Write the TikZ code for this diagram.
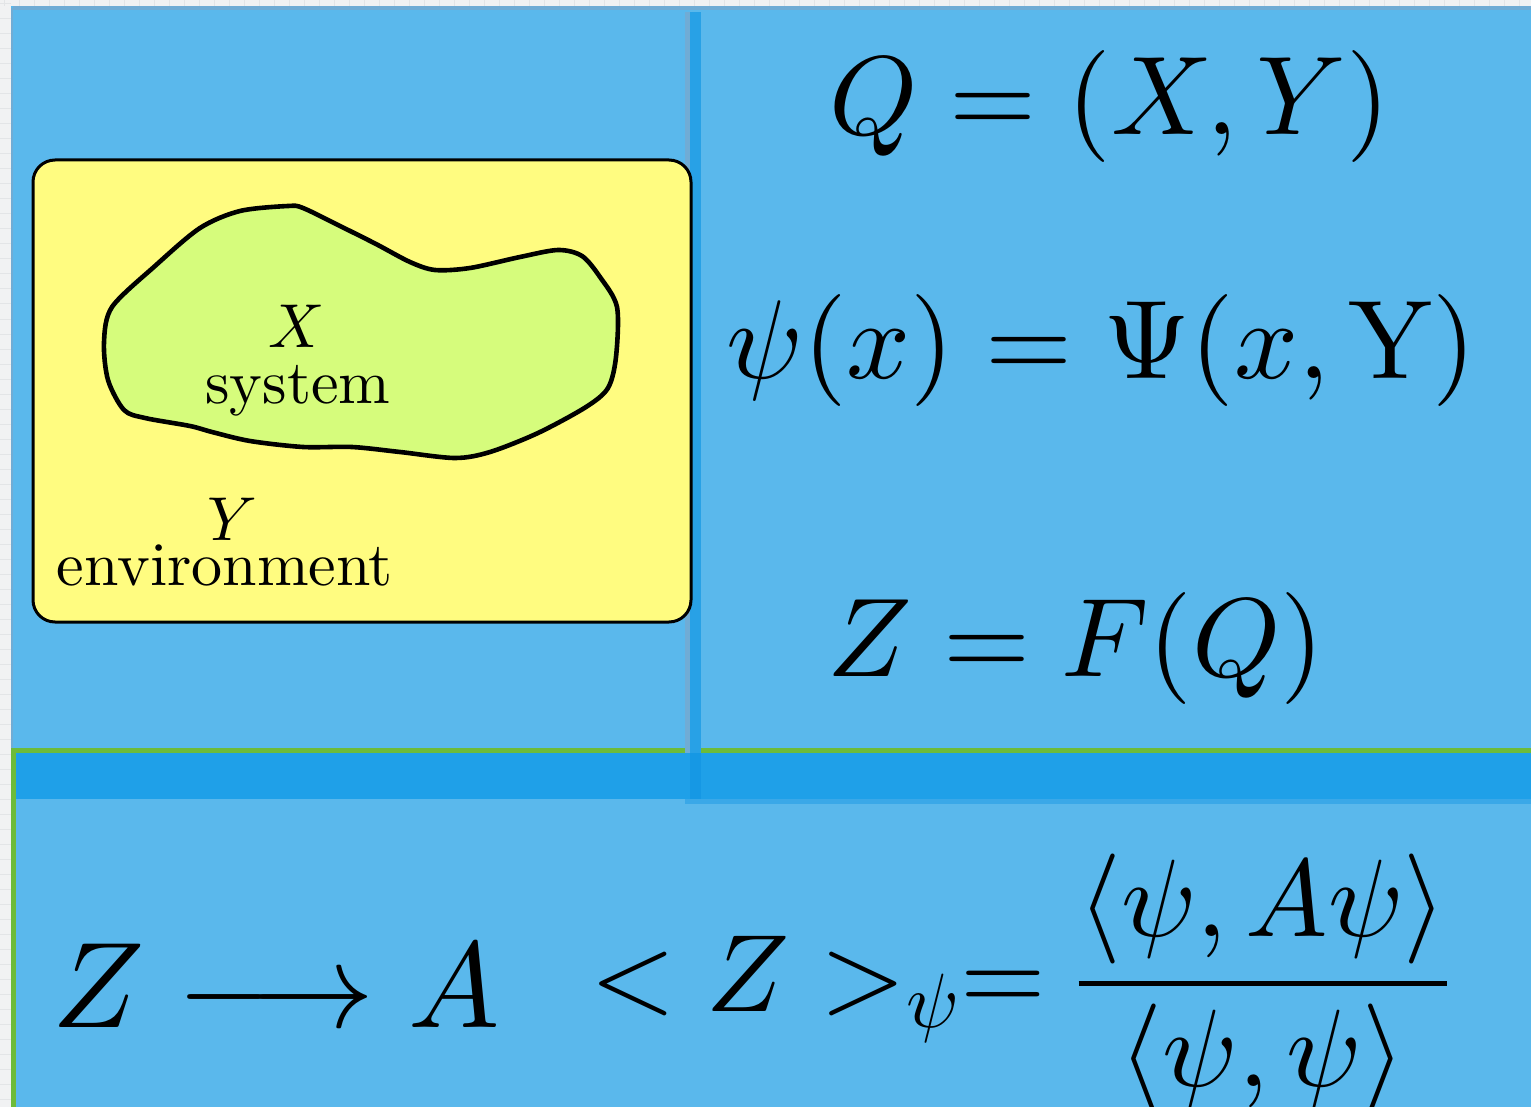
\documentclass[tikz,border=0pt]{standalone}
\usepackage{amsmath}
% scale the 10pt designs of the CM math fonts to any size
\DeclareFontShape{OT1}{cmr}{m}{n}{<->cmr10}{}
\DeclareFontShape{OML}{cmm}{m}{it}{<->cmmi10}{}
\DeclareFontShape{OMS}{cmsy}{m}{n}{<->cmsy10}{}
\DeclareFontShape{OMX}{cmex}{m}{n}{<->cmex10}{}
\font\lmtext="[lmroman10-regular]:mapping=tex-text" at 31pt
\definecolor{pagebg}{HTML}{F1F2F3}
\definecolor{gridc}{HTML}{E3E5E7}
\definecolor{panelblue}{HTML}{5AB8EC}
\definecolor{paneledge}{HTML}{70ACD5}
\definecolor{bandblue}{HTML}{1FA0E8}
\definecolor{bandedge}{HTML}{3AA8E8}
\definecolor{barblue}{HTML}{28A1E6}
\definecolor{bardark}{HTML}{1698E4}
\definecolor{panelgreen}{HTML}{6DBB3A}
\definecolor{boxyellow}{HTML}{FFFC80}
\definecolor{blobgreen}{HTML}{D6FC7C}
\tikzset{
  lbl/.style={inner sep=0pt, anchor=base, font=\fontsize{31}{37}\selectfont\lmtext},
  eqn/.style={inner sep=0pt, anchor=base, font=\fontsize{56}{62}\selectfont},
  gridline/.style={draw=gridc, line width=0.5pt},
}
\begin{document}
\begin{tikzpicture}[x=0.5pt,y=-0.5pt]
\useasboundingbox (0,0) rectangle (1531,1107);
% page background
\fill[pagebg] (0,0) rectangle (1531,1107);
\foreach \i in {4,19,...,1107} \draw[gridline] (0,\i) -- (11,\i);
\foreach \i in {4,19,...,1531} \draw[gridline] (\i,0) -- (\i,6);
% top panel
\fill[panelblue] (11,6) rectangle (1531,1107);
\draw[paneledge, line width=2pt] (13,8) -- (1535,8);
\draw[paneledge, line width=1.2pt] (12,8) -- (12,748);
% bottom panel with green frame
\draw[panelgreen, line width=2.5pt] (13.5,1115) -- (13.5,750.5) -- (1540,750.5);
% dark bands
\fill[bandblue] (16,753) rectangle (685,799);
\fill[bandedge] (685,753) rectangle (1531,804);
\fill[bandblue] (685,753) rectangle (1531,799);
% vertical bar
\fill[paneledge] (685,12) rectangle (690,753);
\fill[barblue] (690,12) rectangle (701,753);
\fill[bardark] (690,753) rectangle (701,799);
% yellow environment box
\draw[fill=boxyellow, line width=1.5pt, rounded corners=11pt] (33,160) rectangle (691,622);
% system blob
\draw[fill=blobgreen, line width=2.3pt] plot[smooth cycle, tension=0.5] coordinates {
 (112,307) (155,266) (200,228) (240,211) (288,206) (303,208) (340,226) (376,244)
 (410,262) (435,270) (470,268) (520,257) (558,250) (582,256) (600,277) (617,307)
 (616,357) (608,388) (586,407) (538,433) (490,452) (455,458) (400,452) (352,447)
 (303,447) (250,441) (212,432) (190,426) (145,418) (124,410) (108,380) (104,342)};
% labels
\node[lbl] (xlab) at (297,347) {$X$};
\node[lbl] (syslab) at (298,403) {system};
\node[lbl] (ylab) at (232,540) {$Y$};
\node[lbl] (envlab) at (225,585) {environment};
% equations
\node[eqn] (eqQ) at (1110,135) {$Q=(X,Y)$};
\node[eqn] (eqPsi) at (1101,378) {$\psi(x)=\Psi(x,\mathrm{Y})$};
\node[eqn] (eqZ) at (1076,676) {$Z=F(Q)$};
\node[eqn, font=\fontsize{61}{68}\selectfont] (eqMap) at (276,1027) {$Z\longrightarrow A$};
\node[eqn, font=\fontsize{55}{60}\selectfont] (eqExp) at (1020,1011)
  {$\displaystyle <Z>_\psi=\frac{\langle\psi,A\psi\rangle}{\langle\psi,\psi\rangle}$};
\end{tikzpicture}
\end{document}
